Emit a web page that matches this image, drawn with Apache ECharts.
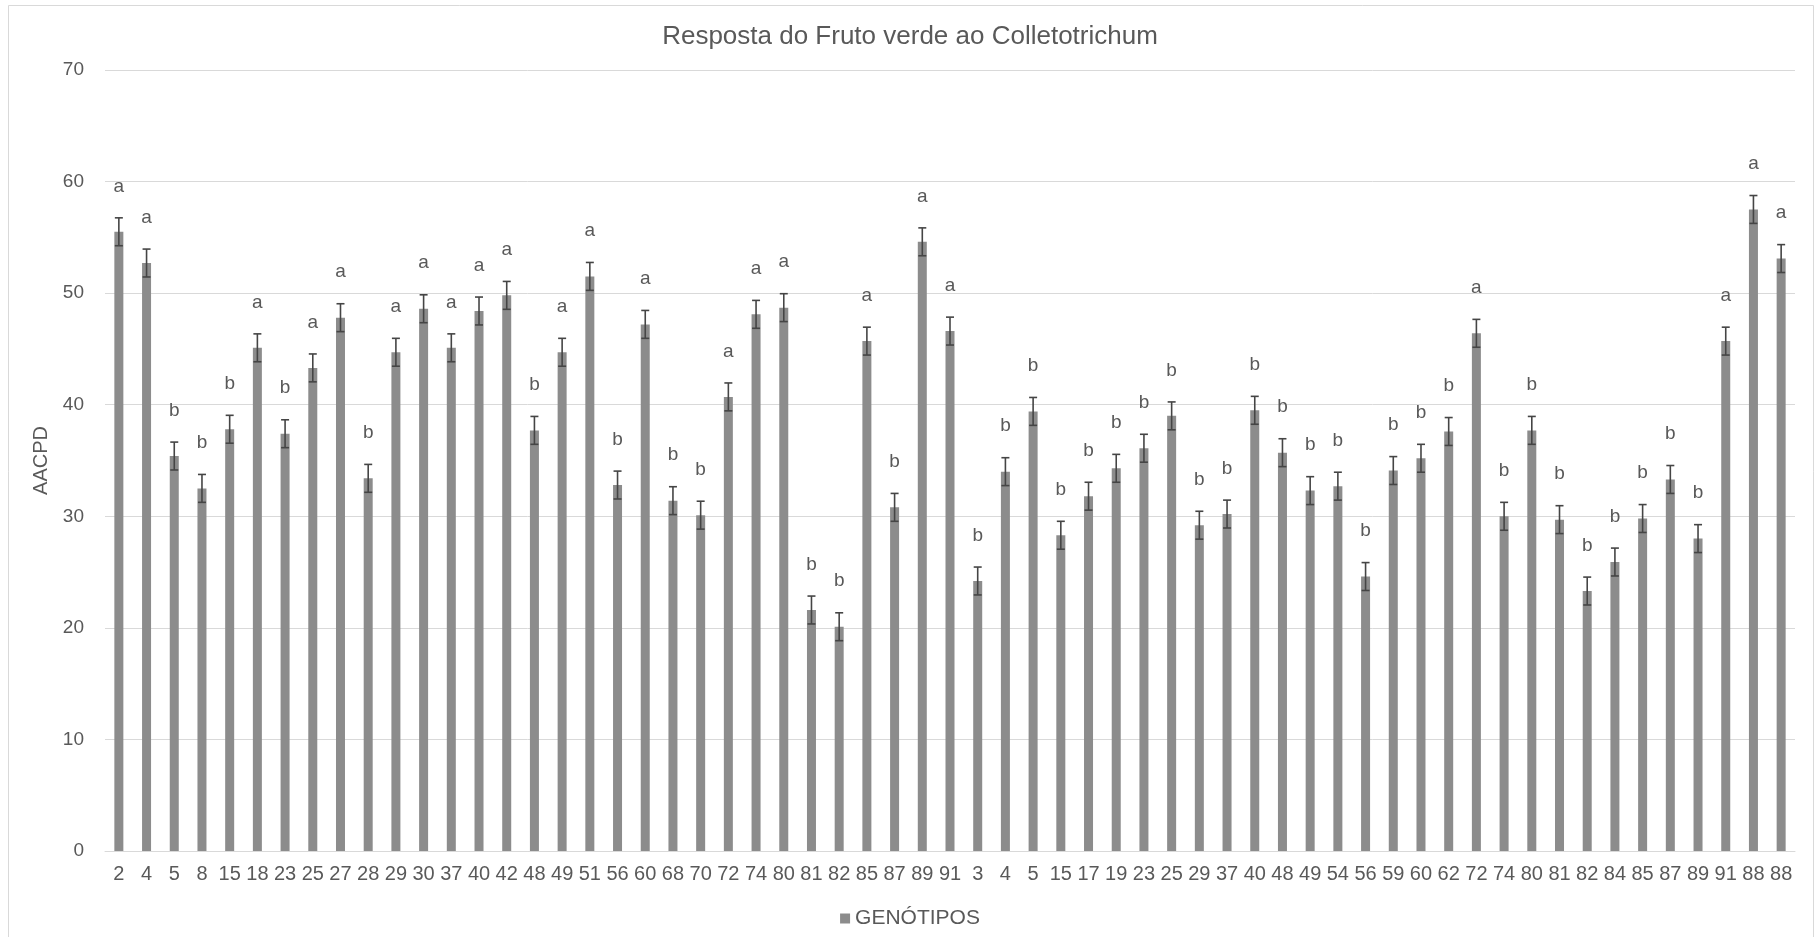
<!DOCTYPE html>
<html>
<head>
<meta charset="utf-8">
<script src="https://cdn.jsdelivr.net/npm/echarts@6/dist/echarts.min.js"></script>
<style>
  html, body { margin: 0; padding: 0; background: #ffffff; }
  #chart { width: 1820px; height: 937px; }
</style>
</head>
<body>
<div id="chart"></div>
<script>
// Genótipos avaliados (ordem do eixo X)
const genotipos = [
  '2','4','5','8','15','18','23','25','27','28',
  '29','30','37','40','42','48','49','51','56','60',
  '68','70','72','74','80','81','82','85','87','89',
  '91','3','4','5','15','17','19','23','25','29',
  '37','40','48','49','54','56','59','60','62','72',
  '74','80','81','82','84','85','87','89','91','88','88'
];

// AACPD média por genótipo
const aacpd = [
  55.5, 52.7, 35.4, 32.5, 37.8, 45.1, 37.4, 43.3, 47.8, 33.4,
  44.7, 48.6, 45.1, 48.4, 49.8, 37.7, 44.7, 51.5, 32.8, 47.2,
  31.4, 30.1, 40.7, 48.1, 48.7, 21.6, 20.1, 45.7, 30.8, 54.6,
  46.6, 24.2, 34.0, 39.4, 28.3, 31.8, 34.3, 36.1, 39.0, 29.2,
  30.2, 39.5, 35.7, 32.3, 32.7, 24.6, 34.1, 35.2, 37.6, 46.4,
  30.0, 37.7, 29.7, 23.3, 25.9, 29.8, 33.3, 28.0, 45.7, 57.5, 53.1
];

// Barras de erro (±)
const erro = [
  1.25, 1.25, 1.25, 1.25, 1.25, 1.25, 1.25, 1.25, 1.25, 1.25,
  1.25, 1.25, 1.25, 1.25, 1.25, 1.25, 1.25, 1.25, 1.25, 1.25,
  1.25, 1.25, 1.25, 1.25, 1.25, 1.25, 1.25, 1.25, 1.25, 1.25,
  1.25, 1.25, 1.25, 1.25, 1.25, 1.25, 1.25, 1.25, 1.25, 1.25,
  1.25, 1.25, 1.25, 1.25, 1.25, 1.25, 1.25, 1.25, 1.25, 1.25,
  1.25, 1.25, 1.25, 1.25, 1.25, 1.25, 1.25, 1.25, 1.25, 1.25, 1.25
];

// Letras do teste de médias
const letras = [
  'a','a','b','b','b','a','b','a','a','b',
  'a','a','a','a','a','b','a','a','b','a',
  'b','b','a','a','a','b','b','a','b','a',
  'a','b','b','b','b','b','b','b','b','b',
  'b','b','b','b','b','b','b','b','b','a',
  'b','b','b','b','b','b','b','b','a','a','a'
];

const yTicks = { min: 0, max: 70, interval: 10 };

const FONT = "'Liberation Sans', Arial, sans-serif";
const TEXT = '#595959';
const GRID = '#d9d9d9';
const BAR = '#8c8c8c';

const errData = aacpd.map((v, i) => [i, v, erro[i]]);

const chart = echarts.init(document.getElementById('chart'), null, { renderer: 'canvas' });

chart.setOption({
  backgroundColor: '#ffffff',
  animation: false,
  textStyle: { fontFamily: FONT, color: TEXT },
  title: {
    text: 'Resposta do Fruto verde ao Colletotrichum',
    left: 'center',
    top: 19,
    textStyle: { fontFamily: FONT, fontSize: 26, fontWeight: 'normal', color: TEXT }
  },
  legend: {
    top: 903,
    left: 'center',
    icon: 'rect',
    itemWidth: 10,
    itemHeight: 10,
    itemGap: 6,
    data: ['GENÓTIPOS'],
    textStyle: { fontFamily: FONT, fontSize: 21, color: TEXT }
  },
  grid: { left: 105, right: 25, top: 70, bottom: 86, containLabel: false },
  xAxis: {
    type: 'category',
    data: genotipos,
    axisLine: { show: true, lineStyle: { color: GRID, width: 1 } },
    axisTick: { show: false },
    axisLabel: { interval: 0, margin: 13, fontFamily: FONT, fontSize: 20, color: TEXT }
  },
  yAxis: {
    type: 'value',
    min: yTicks.min,
    max: yTicks.max,
    interval: yTicks.interval,
    name: 'AACPD',
    nameLocation: 'middle',
    nameGap: 52,
    nameTextStyle: { fontFamily: FONT, fontSize: 20, color: TEXT },
    axisLine: { show: false },
    axisTick: { show: false },
    axisLabel: { margin: 21, fontFamily: FONT, fontSize: 19, color: TEXT },
    splitLine: { show: true, lineStyle: { color: GRID, width: 1 } }
  },
  graphic: [{
    type: 'rect',
    silent: true,
    z: -10,
    shape: { x: 8.5, y: 5.5, width: 1805, height: 945 },
    style: { fill: 'none', stroke: GRID, lineWidth: 1 }
  }],
  series: [
    {
      name: 'GENÓTIPOS',
      type: 'bar',
      data: aacpd,
      barWidth: 9,
      itemStyle: { color: BAR },
      label: {
        show: true,
        position: 'top',
        distance: 36,
        formatter: (p) => letras[p.dataIndex],
        fontFamily: FONT,
        fontSize: 19,
        color: TEXT
      }
    },
    {
      name: 'erro',
      type: 'custom',
      data: errData,
      encode: { x: 0, y: 1 },
      z: 5,
      silent: true,
      renderItem: (params, api) => {
        const i = api.value(0);
        const v = api.value(1);
        const e = api.value(2);
        const hi = api.coord([i, v + e]);
        const lo = api.coord([i, v - e]);
        const cap = 4;
        const st = { stroke: '#454545', lineWidth: 1.6 };
        return {
          type: 'group',
          children: [
            { type: 'line', shape: { x1: hi[0], y1: hi[1], x2: lo[0], y2: lo[1] }, style: st },
            { type: 'line', shape: { x1: hi[0] - cap, y1: hi[1], x2: hi[0] + cap, y2: hi[1] }, style: st },
            { type: 'line', shape: { x1: lo[0] - cap, y1: lo[1], x2: lo[0] + cap, y2: lo[1] }, style: st }
          ]
        };
      }
    }
  ]
});
</script>
</body>
</html>
